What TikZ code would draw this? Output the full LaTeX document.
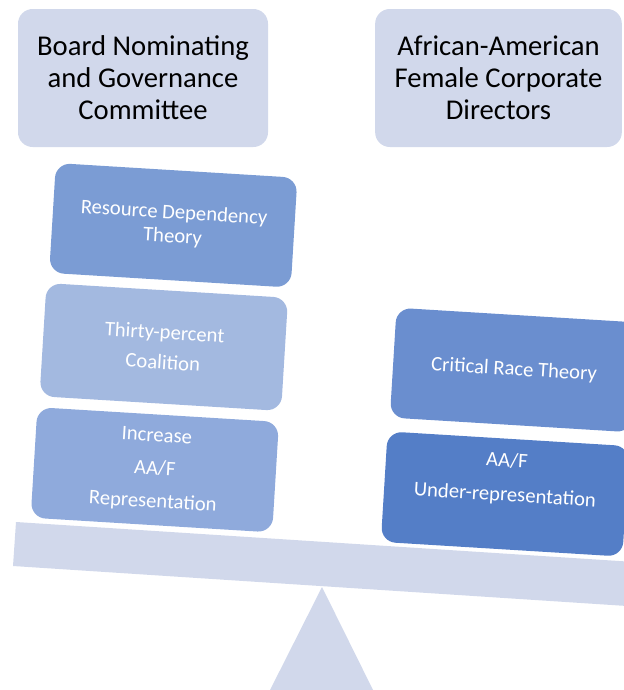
\documentclass[tikz,border=0pt]{standalone}
\usepackage{fontspec}
\setmainfont{Carlito}
\definecolor{paleblue}{HTML}{D1D8EB}
\definecolor{tileA}{HTML}{7B9CD4}
\definecolor{tileB}{HTML}{A3B9E0}
\definecolor{tileC}{HTML}{8FAADC}
\definecolor{tileD}{HTML}{6A8ECF}
\definecolor{tileE}{HTML}{547EC7}
\begin{document}
\begin{tikzpicture}[x=0.75pt,y=-0.75pt,
  topbox/.style={draw=none, fill=paleblue, rounded corners=11pt,
    minimum height=103.5pt, align=center, text=black, inner sep=0pt,
    font=\fontsize{21.5}{24}\selectfont},
  tile/.style={draw=none, rounded corners=11pt, minimum width=181.5pt,
    align=center, text=white, rotate=-3.5, inner sep=0pt}]
\useasboundingbox (0,0) rectangle (624,690);
\clip (0,0) rectangle (624,690);

% the two parties being weighed
\node[topbox, minimum width=187.5pt] (board) at (143,78)
  {Board Nominating\\and Governance\\Committee};
\node[topbox, minimum width=185pt] (directors) at (498.5,78)
  {African-American\\Female Corporate\\Directors};

% seesaw beam and fulcrum
\fill[paleblue] (16,522) -- (650,563) -- (650,607.5) -- (13,566) -- cycle;
\fill[paleblue] (322,587) -- (376.5,697) -- (266.5,697) -- cycle;

% left-hand stack
\node[tile, fill=tileA, minimum height=82.5pt,
  font=\fontsize{15.5}{18}\selectfont] (rdt) at (173.3,225.3)
  {Resource Dependency\\Theory};
\node[tile, fill=tileB, minimum height=85pt,
  font=\fontsize{15.5}{22.5}\selectfont] (tpc) at (163.8,347)
  {Thirty-percent\\Coalition};
\node[tile, fill=tileC, minimum height=83pt,
  font=\fontsize{15.5}{24.75}\selectfont] (inc) at (154.8,469.8)
  {Increase\\AA/F\\Representation};

% right-hand stack
\node[tile, fill=tileD, minimum height=82.5pt,
  font=\fontsize{15.5}{18}\selectfont] (crt) at (514,370)
  {Critical Race Theory};
\node[tile, fill=tileE, minimum height=83pt,
  font=\fontsize{15.5}{25.5}\selectfont] (under) at (505,494)
  {AA/F\\Under-representation\\\mbox{}};
\end{tikzpicture}
\end{document}
